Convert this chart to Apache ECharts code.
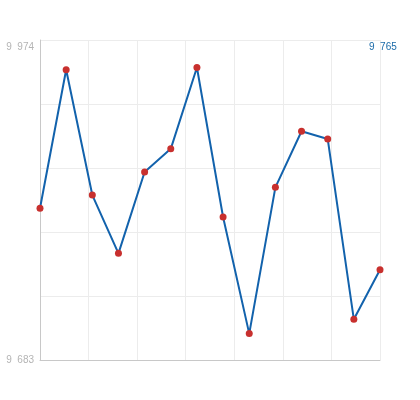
<!DOCTYPE html>
<html>
<head>
<meta charset="utf-8">
<script src="https://cdn.jsdelivr.net/npm/echarts@6/dist/echarts.min.js"></script>
<style>html,body{margin:0;padding:0;background:#fff}#c{width:420px;height:400px}</style>
</head>
<body>
<div id="c"></div>
<script>
var categories = ['1','2','3','4','5','6','7','8','9','10','11','12','13','14'];
var values = [9821, 9947, 9833, 9780, 9854, 9875, 9949, 9813, 9707, 9840, 9891, 9884, 9720, 9765];
var yTicks = [9683, 9974];

function fmt(v) {
  var s = String(Math.round(v));
  return s.replace(/\B(?=(\d{3})+(?!\d))/g, '  ');
}

var yMin = yTicks[0], yMax = yTicks[yTicks.length - 1];
var chart = echarts.init(document.getElementById('c'), null, {renderer: 'canvas'});
chart.setOption({
  animation: false,
  backgroundColor: '#fff',
  title: {
    text: fmt(values[values.length - 1]),
    left: 366, top: 41, padding: [1, 3],
    textStyle: {color: '#1a6aa8', fontSize: 10, fontWeight: 'normal', fontFamily: 'Liberation Sans, Arial, sans-serif'}
  },
  grid: {left: 40, right: 40, top: 40, bottom: 40, containLabel: false},
  xAxis: [{
    type: 'category', data: categories, boundaryGap: false,
    axisLine: {show: false}, axisTick: {show: false}, axisLabel: {show: false}, splitLine: {show: false}
  }, {
    type: 'value', min: 0, max: 7, interval: 1, position: 'bottom',
    axisLine: {show: true, onZero: false, lineStyle: {color: '#c8c8c8', width: 1}},
    axisTick: {show: false}, axisLabel: {show: false},
    splitLine: {show: true, lineStyle: {color: '#ececec', width: 1}}
  }],
  yAxis: {
    type: 'value', min: yMin, max: yMax, interval: (yMax - yMin) / 5,
    axisLine: {show: true, lineStyle: {color: '#c8c8c8', width: 1}},
    axisTick: {show: false},
    splitLine: {show: true, lineStyle: {color: '#ececec', width: 1}},
    axisLabel: {
      margin: 6, color: '#b4b4b4', fontSize: 10, fontFamily: 'Liberation Sans, Arial, sans-serif',
      padding: [2, 0, 8, 0],
      verticalAlignMinLabel: 'middle', verticalAlignMaxLabel: 'top',
      formatter: function (v) {
        var r = Math.round(v);
        return yTicks.indexOf(r) >= 0 && Math.abs(v - r) < 0.01 ? fmt(r) : '';
      }
    }
  },
  series: [{
    type: 'line', xAxisIndex: 0, data: values,
    lineStyle: {color: '#1262ac', width: 2},
    symbol: 'circle', symbolSize: 7,
    itemStyle: {color: '#c8302e', borderWidth: 0},
    z: 3
  }]
});
</script>
</body>
</html>
